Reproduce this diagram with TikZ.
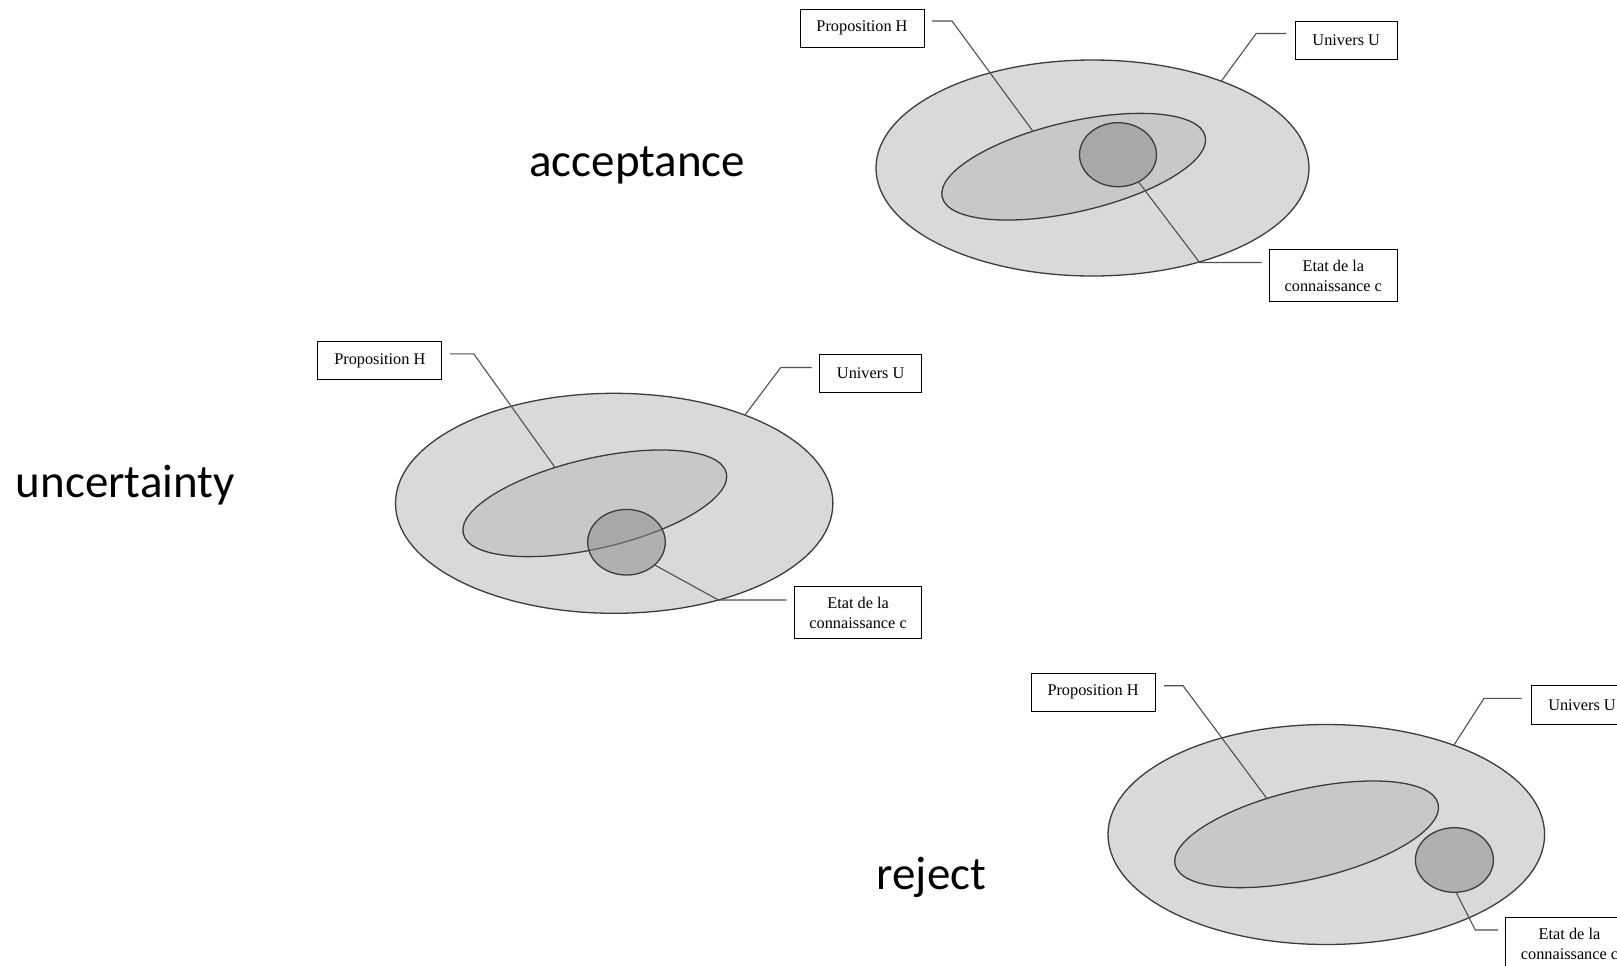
\documentclass[tikz,border=0pt]{standalone}
\usepackage{fontspec}
\setmainfont{Liberation Serif}
\newfontfamily\calib{Carlito}
\usetikzlibrary{shapes.geometric,calc}

\definecolor{ufill}{HTML}{D9D9D9}
\definecolor{hfill}{HTML}{C8C8C8}
\definecolor{cfill}{HTML}{8D8D8D}
\definecolor{edgegray}{HTML}{3C3C3C}
\definecolor{leadgray}{HTML}{505050}

\tikzset{
  univ/.style={ellipse, draw=edgegray, fill=ufill, line width=0.65pt,
    inner sep=0pt, outer sep=0pt},
  prop/.style={ellipse, draw=edgegray, fill=hfill, line width=0.65pt,
    inner sep=0pt, outer sep=0pt, rotate=13,
    minimum width=135pt, minimum height=45pt},
  know/.style={ellipse, draw=edgegray, fill=cfill, fill opacity=0.53,
    draw opacity=1, line width=0.65pt, inner sep=0pt, outer sep=0pt},
  lbox/.style={draw=black, fill=white, line width=0.5pt, inner sep=0pt,
    outer sep=0pt, align=center, font=\fontsize{8.15}{10}\selectfont},
  propbox/.style={lbox, minimum width=62pt, minimum height=19pt},
  univbox/.style={lbox, minimum width=51pt, minimum height=19.3pt},
  etatbox/.style={lbox, minimum width=63.7pt, minimum height=26.2pt},
  lead/.style={draw=leadgray, line width=0.55pt},
  case/.style={anchor=base, inner sep=0pt, font=\fontsize{23.5}{28}\calib}
}

\begin{document}
\begin{tikzpicture}[x=0.5pt, y=-0.5pt]
\useasboundingbox (0,0) rectangle (1617,965);
\clip (0,0) rectangle (1617,965);

% ---- acceptance ----
\node[univ, minimum width=216.5pt, minimum height=108pt] (U1) at (1092.5,168) {};
\node[prop] (H1) at (1073.7,166.7) {};
\node[know, minimum width=38.5pt, minimum height=32pt] (S1) at (1118,154.7) {};
\node[propbox] (PH1) at (862,28) {Proposition H};
\node[univbox] (UU1) at (1346.2,40.5) {Univers U};
\node[etatbox] (E1) at (1333.3,275.5) {Etat de la\\connaissance c};
\draw[lead] ($(PH1.east)+(8,-7)$) -- ++(20,0) -- (H1.126.7);
\draw[lead] ($(UU1.west)+(-9,-7)$) -- ++(-30,0) -- (U1.34.8);
\draw[lead] ($(E1.west)+(-8,-13)$) -- ++(-62,0) -- (S1.-53.5);
\node[case] (T1) at (637.2,176.7) {acceptance};

% ---- uncertainty ----
\node[univ, minimum width=218.7pt, minimum height=110pt] (U2) at (614.2,503.3) {};
\node[prop] (H2) at (594.8,503.3) {};
\node[know, minimum width=38.8pt, minimum height=32.8pt] (S2) at (626.5,542.2) {};
\node[propbox] (PH2) at (379.8,360.9) {Proposition H};
\node[univbox] (UU2) at (870.7,373.5) {Univers U};
\node[etatbox] (E2) at (858.1,612.5) {Etat de la\\connaissance c};
\draw[lead] ($(PH2.east)+(8,-7)$) -- ++(24,0) -- (H2.125);
\draw[lead] ($(UU2.west)+(-8,-6)$) -- ++(-31,0) -- (U2.34.8);
\draw[lead] ($(E2.west)+(-8,-12.5)$) -- ++(-68,0) -- (S2.-39.8);
\node[case] (T2) at (125.3,497) {uncertainty};

% ---- reject ----
\node[univ, minimum width=218.3pt, minimum height=110pt] (U3) at (1326.3,834.5) {};
\node[prop] (H3) at (1306.6,834.3) {};
\node[know, minimum width=39pt, minimum height=32.3pt] (S3) at (1454.4,860) {};
\node[propbox] (PH3) at (1093,692.3) {Proposition H};
\node[univbox] (UU3) at (1582,705) {Univers U};
\node[etatbox] (E3) at (1569.5,943.7) {Etat de la\\connaissance c};
\draw[lead] ($(PH3.east)+(9,-6.6)$) -- ++(19,0) -- (H3.125);
\draw[lead] ($(UU3.west)+(-9.5,-6.7)$) -- ++(-37.5,0) -- (U3.35);
\draw[lead] ($(E3.west)+(-8,-13.7)$) -- ++(-22.5,0) -- (S3.-87.2);
\node[case] (T3) at (931.3,889) {reject};
\end{tikzpicture}
\end{document}
